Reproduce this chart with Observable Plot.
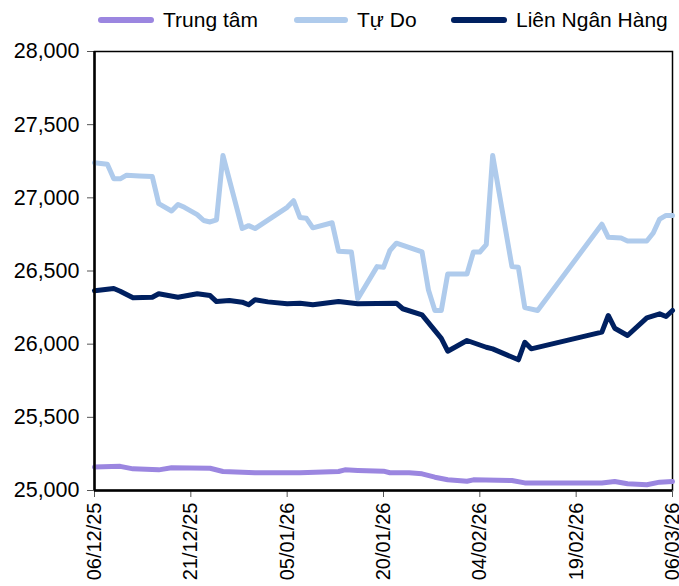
<!DOCTYPE html>
<html><head><meta charset="utf-8">
<script src="https://cdn.jsdelivr.net/npm/d3@7"></script>
<script src="https://cdn.jsdelivr.net/npm/@observablehq/plot@0.6"></script>
<style>
body{margin:0;background:#fff;font-family:"Liberation Sans",Arial,sans-serif;}
#legend{position:relative;height:40px;width:679px;}
.sw{position:absolute;height:6px;border-radius:3px;}
.lt{position:absolute;font-size:21px;color:#000;line-height:21px;white-space:nowrap;}
.yax text{font-size:21.5px;}
</style></head><body>
<div id="legend"></div><div id="chart"></div>
<script>
const seriesNames = ["Trung tâm", "Tự Do", "Liên Ngân Hàng"];
const seriesColors = ["#9b86e0", "#afcbec", "#002060"];

const ttDates = ["2025-12-06","2025-12-10","2025-12-12","2025-12-16","2025-12-18","2025-12-24","2025-12-26","2025-12-31","2026-01-07","2026-01-13","2026-01-14","2026-01-16","2026-01-20","2026-01-21","2026-01-24","2026-01-26","2026-01-28","2026-01-30","2026-02-02","2026-02-03","2026-02-09","2026-02-11","2026-02-23","2026-02-25","2026-02-27","2026-03-02","2026-03-04","2026-03-06"];
const ttValues = [25160,25165,25148,25141,25155,25152,25130,25121,25121,25130,25141,25137,25132,25121,25121,25114,25091,25073,25063,25073,25068,25052,25052,25061,25046,25039,25057,25061];

const tdDates = ["2025-12-06","2025-12-08","2025-12-09","2025-12-10","2025-12-11","2025-12-13","2025-12-15","2025-12-16","2025-12-18","2025-12-19","2025-12-20","2025-12-22","2025-12-23","2025-12-24","2025-12-25","2025-12-26","2025-12-29","2025-12-30","2025-12-31","2026-01-05","2026-01-06","2026-01-07","2026-01-08","2026-01-09","2026-01-12","2026-01-13","2026-01-15","2026-01-16","2026-01-19","2026-01-20","2026-01-21","2026-01-22","2026-01-26","2026-01-27","2026-01-28","2026-01-29","2026-01-30","2026-02-02","2026-02-03","2026-02-04","2026-02-05","2026-02-06","2026-02-09","2026-02-10","2026-02-11","2026-02-13","2026-02-23","2026-02-24","2026-02-26","2026-02-27","2026-03-02","2026-03-03","2026-03-04","2026-03-05","2026-03-06"];
const tdValues = [27240,27230,27130,27130,27155,27150,27145,26960,26910,26955,26935,26885,26845,26835,26850,27290,26790,26810,26790,26935,26980,26865,26860,26795,26830,26635,26630,26310,26530,26525,26640,26690,26630,26370,26230,26230,26480,26480,26630,26630,26680,27290,26530,26525,26250,26230,26820,26730,26725,26705,26705,26760,26855,26880,26880];

const lnhDates = ["2025-12-06","2025-12-09","2025-12-10","2025-12-12","2025-12-15","2025-12-16","2025-12-19","2025-12-22","2025-12-24","2025-12-25","2025-12-27","2025-12-29","2025-12-30","2025-12-31","2026-01-02","2026-01-05","2026-01-07","2026-01-09","2026-01-13","2026-01-16","2026-01-22","2026-01-23","2026-01-26","2026-01-29","2026-01-30","2026-02-02","2026-02-05","2026-02-06","2026-02-10","2026-02-11","2026-02-12","2026-02-23","2026-02-24","2026-02-25","2026-02-27","2026-03-02","2026-03-04","2026-03-05","2026-03-06"];
const lnhValues = [26365,26380,26362,26317,26321,26345,26321,26345,26332,26291,26298,26287,26269,26303,26289,26276,26280,26269,26291,26276,26280,26242,26200,26040,25952,26025,25979,25968,25893,26013,25968,26082,26196,26109,26059,26180,26207,26189,26230];

const xTickDates = ["2025-12-06","2025-12-21","2026-01-05","2026-01-20","2026-02-04","2026-02-19","2026-03-06"];
const yTicks = [25000,25500,26000,26500,27000,27500,28000];

const parse = d3.utcParse("%Y-%m-%d");
function rows(dates, values, name) {
  return dates.map((d, i) => ({date: parse(d), value: values[i], series: name}));
}
const data = [
  ...rows(ttDates, ttValues, seriesNames[0]),
  ...rows(tdDates, tdValues, seriesNames[1]),
  ...rows(lnhDates, lnhValues, seriesNames[2])
];

// legend
const legendPos = [[98, 154, 163], [294, 348, 357], [451, 507, 516]];
const lg = document.getElementById("legend");
seriesNames.forEach((n, i) => {
  const [a, b, t] = legendPos[i];
  const s = document.createElement("div");
  s.className = "sw";
  s.style.left = a + "px"; s.style.width = (b - a) + "px"; s.style.top = "17px";
  s.style.background = seriesColors[i];
  lg.appendChild(s);
  const l = document.createElement("div");
  l.className = "lt";
  l.style.left = t + "px"; l.style.top = "9px";
  l.textContent = n;
  lg.appendChild(l);
});

const xDomain = [parse(xTickDates[0]), parse(xTickDates[xTickDates.length - 1])];
const chart = Plot.plot({
  width: 679,
  height: 546,
  marginTop: 11,
  marginBottom: 96,
  marginLeft: 94,
  marginRight: 7,
  style: {fontFamily: "'Liberation Sans', Arial, sans-serif", fontSize: "20px", color: "#000", background: "#fff"},
  x: {type: "utc", domain: xDomain},
  y: {domain: [25000, 28000]},
  color: {domain: seriesNames, range: seriesColors},
  marks: [
    Plot.frame({stroke: "#000", strokeWidth: 1.5}),
    Plot.lineY(data, {x: "date", y: "value", z: "series", stroke: "series", strokeWidth: 5, strokeLinejoin: "round", strokeLinecap: "round"}),
    Plot.axisY({ticks: yTicks, tickFormat: d3.format(","), tickSize: 7, tickPadding: 8, stroke: "#555", label: null, className: "yax"}),
    Plot.axisX({ticks: xTickDates.map(parse), tickFormat: d3.utcFormat("%d/%m/%y"), tickRotate: -90, tickSize: 7, tickPadding: 5, stroke: "#555", label: null}),
    Plot.ruleX([xDomain[0]], {stroke: "#000", strokeWidth: 2.5}),
    Plot.ruleY([25000], {stroke: "#000", strokeWidth: 2.5})
  ]
});
document.getElementById("chart").appendChild(chart);
</script>
</body></html>
